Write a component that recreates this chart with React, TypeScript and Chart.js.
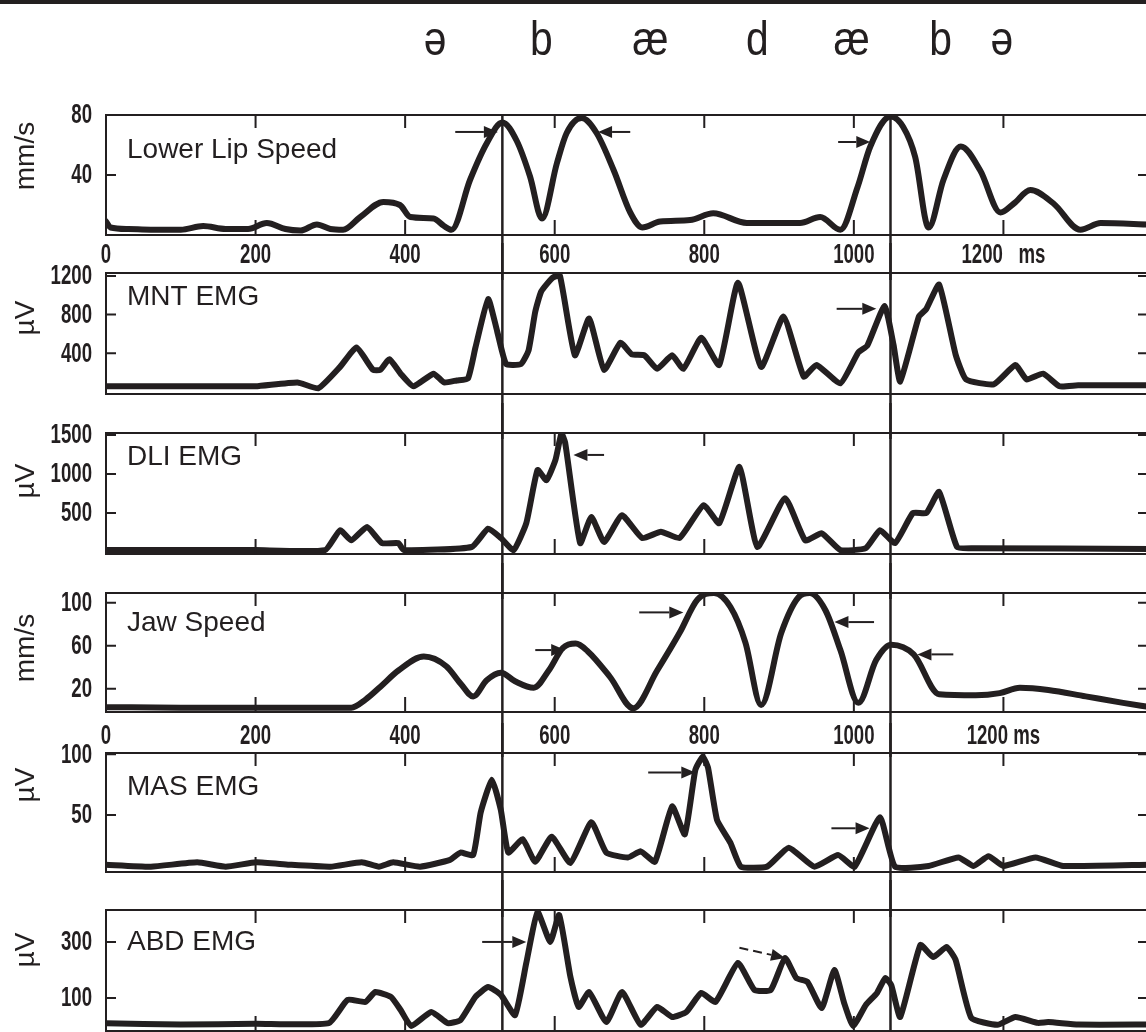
import React, { useEffect, useRef } from 'react';
import { Chart, registerables } from 'chart.js';

Chart.register(...registerables);

const INK = '#231f20';

// ---------- data (time in ms, values in panel units) ----------
const xTickValues = [0, 200, 400, 600, 800, 1000, 1200];
const boundaryTimes = [530, 1049];
const phonemeLabels = ['ə', 'b', 'æ', 'd', 'æ', 'b', 'ə'];
const phonemeTimes = [440, 582, 728, 871, 997, 1116, 1198];

const lipTime = [0, 6, 30, 60, 100, 130, 160, 190, 215, 240, 260, 282, 300, 317, 340, 371, 393, 407, 438, 452, 462, 487, 509, 530, 549, 567, 583, 603, 616, 636, 656, 679, 701, 717, 741, 781, 812, 857, 928, 955, 982, 1005, 1022, 1049, 1066, 1082, 1100, 1120, 1143, 1169, 1196, 1214, 1236, 1267, 1303, 1330, 1396];
const lipSpeed = [9, 5, 4, 3.5, 3.5, 6, 4, 4, 8, 4, 3, 7, 4, 3.5, 12, 22, 20, 12, 11, 6, 3.5, 37, 61, 75, 63, 39, 11, 48, 68, 78, 68, 43, 15, 5, 9, 10, 14.5, 8, 8, 12, 3.5, 32, 59, 79, 72, 52, 5, 37, 59, 43, 15, 21, 30, 21, 3.5, 8, 7];
const lipTicks = [40, 80];
const lipArrows = [[467, 68.7, 524, 68.7], [701, 68.7, 658, 68.7], [979, 62, 1022, 62]];

const mntTime = [0, 50, 100, 150, 200, 256, 284, 313, 335, 357, 367, 379, 394, 411, 438, 452, 469, 484, 494, 511, 523, 535, 555, 565, 574, 582, 597, 607, 627, 646, 666, 688, 703, 720, 737, 757, 772, 796, 820, 845, 876, 906, 933, 950, 982, 1006, 1018, 1041, 1053, 1062, 1087, 1097, 1114, 1136, 1150, 1187, 1216, 1231, 1253, 1275, 1300, 1396];
const mntEmg = [60, 60, 60, 60, 60, 100, 40, 260, 460, 230, 230, 340, 190, 60, 190, 100, 120, 140, 460, 960, 630, 290, 290, 430, 830, 1040, 1180, 1200, 380, 760, 230, 510, 390, 380, 240, 380, 240, 560, 280, 1130, 260, 780, 160, 280, 90, 410, 480, 890, 490, 110, 780, 860, 1110, 390, 130, 80, 280, 130, 190, 60, 70, 70];
const mntTicks = [400, 800, 1200];
const mntArrows = [[977, 860, 1030, 860]];

const dliTime = [0, 100, 200, 293, 313, 328, 349, 369, 391, 398, 489, 511, 528, 545, 562, 577, 589, 601, 609, 614, 634, 649, 666, 690, 717, 742, 767, 799, 820, 847, 871, 908, 935, 957, 982, 1016, 1035, 1055, 1079, 1097, 1114, 1138, 1160, 1396];
const dliEmg = [25, 25, 25, 25, 280, 150, 320, 115, 115, 25, 65, 300, 180, 25, 370, 1050, 920, 1180, 1520, 1400, 115, 450, 130, 470, 180, 260, 180, 600, 370, 1090, 65, 690, 150, 240, 25, 50, 280, 115, 500, 500, 770, 65, 50, 40];
const dliTicks = [500, 1000, 1500];
const dliArrows = [[666, 1244, 625, 1244]];

const jawTime = [0, 100, 200, 328, 347, 367, 391, 425, 455, 474, 491, 509, 528, 547, 572, 592, 611, 628, 644, 674, 705, 737, 767, 791, 813, 835, 855, 876, 903, 926, 941, 962, 982, 1006, 1030, 1050, 1080, 1114, 1163, 1195, 1222, 1260, 1310, 1360, 1396];
const jawSpeed = [3, 2.5, 2.5, 2.5, 10, 22, 37, 50, 41, 25, 13, 28, 35, 27, 21, 37, 58, 62, 55, 31, 2, 37, 72, 103, 109, 96, 63, 5, 72, 105, 109, 93, 56, 7, 47, 61, 52, 15, 14, 16, 21, 19, 13, 7, 3];
const jawTicks = [20, 60, 100];
const jawArrows = [[574, 56, 614, 56], [713, 91, 772, 91], [1027, 82, 974, 82], [1133, 52, 1085, 52]];

const masTime = [0, 60, 122, 160, 201, 245, 300, 342, 365, 384, 420, 460, 474, 491, 501, 516, 528, 538, 557, 574, 596, 621, 649, 669, 698, 715, 734, 757, 774, 788, 798, 805, 817, 835, 849, 884, 913, 947, 979, 1001, 1035, 1055, 1100, 1140, 1160, 1180, 1200, 1243, 1280, 1396];
const masEmg = [9, 7.4, 11, 7.4, 11, 9, 7.4, 11, 7.4, 11, 7.4, 13, 19, 17, 52, 79, 54, 19, 30, 11.5, 32, 10.5, 44, 19, 15, 20, 11.5, 57, 34, 87, 98, 89, 46, 27, 7.4, 7.4, 23, 7.4, 17, 7.4, 48, 7.4, 8, 15, 8, 16, 8, 15, 8, 9];
const masTicks = [50, 100];
const masArrows = [[725, 85, 788, 85], [970, 39, 1021, 39]];

const abdTime = [0, 100, 200, 298, 323, 347, 360, 381, 394, 408, 435, 457, 474, 494, 511, 528, 547, 562, 577, 594, 606, 621, 632, 646, 669, 690, 715, 737, 757, 776, 796, 815, 845, 867, 889, 908, 923, 938, 957, 974, 987, 999, 1016, 1031, 1042, 1050, 1062, 1089, 1106, 1124, 1136, 1157, 1192, 1216, 1246, 1260, 1300, 1396];
const abdEmg = [10, 5, 8, 10, 93, 86, 121, 104, 57, 0, 50, 10, 21, 104, 139, 111, 39, 225, 407, 300, 396, 175, 68, 121, 14, 121, 4, 68, 32, 50, 118, 86, 225, 129, 129, 243, 171, 157, 64, 200, 82, 0, 75, 118, 171, 146, 32, 289, 246, 282, 236, 29, 4, 32, 11, 14, 5, 5];
const abdTicks = [100, 300];
const abdArrows = [[503, 300, 562, 300]];
const abdDashedArrows = [[847, 279, 908, 243]];

// ---------- layout (pixels, not data) ----------
const X_MAX = 1396;
const CANVAS_W = 1170;
const AREA_RIGHT = 1150;
const AREA_LEFT = 106;

type PanelDef = {
  title: string; unit: string; time: number[]; values: number[];
  yMin: number; yMax: number; yTicks: number[];
  top: number; bottom: number; xLabels: boolean; msLabel: string; labelDy: number;
  xMarks: boolean; titleDy: number; unitDy: number; arrows: number[][]; dashed: number[][];
  smooth: boolean;
};

const panels: PanelDef[] = [
  { title: 'Lower Lip Speed', unit: 'mm/s', time: lipTime, values: lipSpeed, yMin: 0, yMax: 80, yTicks: lipTicks, top: 115, bottom: 235, xLabels: true, msLabel: '1200   ms', labelDy: 21, xMarks: true, titleDy: 35, unitDy: 41, arrows: lipArrows, dashed: [], smooth: true },
  { title: 'MNT EMG', unit: 'µV', time: mntTime, values: mntEmg, yMin: -20, yMax: 1230, yTicks: mntTicks, top: 273, bottom: 394, xLabels: false, msLabel: '', labelDy: 0, xMarks: false, titleDy: 24, unitDy: 45, arrows: mntArrows, dashed: [], smooth: false },
  { title: 'DLI EMG', unit: 'µV', time: dliTime, values: dliEmg, yMin: -25, yMax: 1525, yTicks: dliTicks, top: 433, bottom: 554, xLabels: false, msLabel: '', labelDy: 0, xMarks: true, titleDy: 24, unitDy: 48, arrows: dliArrows, dashed: [], smooth: false },
  { title: 'Jaw Speed', unit: 'mm/s', time: jawTime, values: jawSpeed, yMin: -1.5, yMax: 109, yTicks: jawTicks, top: 593, bottom: 712, xLabels: true, msLabel: '1200 ms', labelDy: 25, xMarks: true, titleDy: 30, unitDy: 55, arrows: jawArrows, dashed: [], smooth: true },
  { title: 'MAS EMG', unit: 'µV', time: masTime, values: masEmg, yMin: 3, yMax: 101, yTicks: masTicks, top: 753, bottom: 872, xLabels: false, msLabel: '', labelDy: 0, xMarks: true, titleDy: 34, unitDy: 32, arrows: masArrows, dashed: [], smooth: false },
  { title: 'ABD EMG', unit: 'µV', time: abdTime, values: abdEmg, yMin: -18, yMax: 414, yTicks: abdTicks, top: 910, bottom: 1031, xLabels: false, msLabel: '', labelDy: 0, xMarks: true, titleDy: 32, unitDy: 40, arrows: abdArrows, dashed: abdDashedArrows, smooth: false },
];

const TEXT_FAMILY = "'Liberation Sans', Arial, Helvetica, sans-serif";
const TICK_FONT = `bold 27px ${TEXT_FAMILY}`;
const TICK_SQUEEZE = 0.69;

function canvasTopOf(i: number) { return i === 0 ? 0 : panels[i].top - 30; }
function canvasBottomOf(i: number) { return i === panels.length - 1 ? 1060 : panels[i].bottom + 45; }

function drawArrow(ctx: CanvasRenderingContext2D, x1: number, y1: number, x2: number, y2: number, dashed: boolean) {
  const ang = Math.atan2(y2 - y1, x2 - x1);
  const hl = 14, hw = 6;
  const bx = x2 - hl * Math.cos(ang), by = y2 - hl * Math.sin(ang);
  ctx.save();
  ctx.lineWidth = 2;
  if (dashed) ctx.setLineDash([9, 5]);
  ctx.beginPath();
  ctx.moveTo(x1, y1);
  ctx.lineTo(bx, by);
  ctx.stroke();
  ctx.setLineDash([]);
  ctx.beginPath();
  ctx.moveTo(x2, y2);
  ctx.lineTo(bx + hw * Math.sin(ang), by - hw * Math.cos(ang));
  ctx.lineTo(bx - hw * Math.sin(ang), by + hw * Math.cos(ang));
  ctx.closePath();
  ctx.fill();
  ctx.restore();
}

function squeezedText(ctx: CanvasRenderingContext2D, text: string, x: number, y: number, align: CanvasTextAlign, font: string, squeeze: number) {
  ctx.save();
  ctx.translate(x, y);
  ctx.scale(squeeze, 1);
  ctx.font = font;
  ctx.textAlign = align;
  ctx.textBaseline = 'middle';
  ctx.fillText(text, 0, 0);
  ctx.restore();
}

function makeDeco(p: PanelDef, index: number) {
  return {
    id: 'deco' + index,
    afterDraw(chart: any) {
      const ctx: CanvasRenderingContext2D = chart.ctx;
      const a = chart.chartArea;
      const xs = chart.scales.x;
      const ys = chart.scales.y;
      ctx.save();
      ctx.strokeStyle = INK;
      ctx.fillStyle = INK;
      ctx.lineCap = 'butt';
      // frame
      ctx.lineWidth = 2;
      ctx.strokeRect(a.left, a.top, a.right - a.left, a.bottom - a.top);
      // inward x tick marks
      if (p.xMarks) {
        ctx.beginPath();
        xTickValues.forEach((v) => {
          if (v === 0) return;
          const px = xs.getPixelForValue(v);
          ctx.moveTo(px, a.top); ctx.lineTo(px, a.top + 13);
          ctx.moveTo(px, a.bottom); ctx.lineTo(px, a.bottom - 15);
        });
        ctx.stroke();
      }
      // inward y tick marks + labels
      ctx.beginPath();
      p.yTicks.forEach((v) => {
        const py = ys.getPixelForValue(v);
        ctx.moveTo(a.left, py); ctx.lineTo(a.left + 10, py);
        ctx.moveTo(a.right, py); ctx.lineTo(a.right - 12, py);
      });
      ctx.stroke();
      p.yTicks.forEach((v) => {
        squeezedText(ctx, String(v), a.left - 14, ys.getPixelForValue(v) + 1, 'right', TICK_FONT, TICK_SQUEEZE);
      });
      // x labels
      if (p.xLabels) {
        xTickValues.forEach((v) => {
          const label = v === 1200 ? p.msLabel : String(v);
          squeezedText(ctx, label, xs.getPixelForValue(v), a.bottom + p.labelDy, 'center', TICK_FONT, TICK_SQUEEZE);
        });
      }
      // boundary lines
      ctx.lineWidth = 2.5;
      ctx.beginPath();
      boundaryTimes.forEach((t) => {
        const px = xs.getPixelForValue(t);
        ctx.moveTo(px, index === 0 ? a.top : 0);
        ctx.lineTo(px, chart.height);
      });
      ctx.stroke();
      // arrows
      p.arrows.forEach((ar) => drawArrow(ctx, xs.getPixelForValue(ar[0]), ys.getPixelForValue(ar[1]), xs.getPixelForValue(ar[2]), ys.getPixelForValue(ar[3]), false));
      p.dashed.forEach((ar) => drawArrow(ctx, xs.getPixelForValue(ar[0]), ys.getPixelForValue(ar[1]), xs.getPixelForValue(ar[2]), ys.getPixelForValue(ar[3]), true));
      // panel title
      ctx.font = `28px ${TEXT_FAMILY}`;
      ctx.textAlign = 'left';
      ctx.textBaseline = 'middle';
      ctx.fillText(p.title, a.left + 21, a.top + p.titleDy);
      // unit label
      ctx.save();
      ctx.translate(26, a.top + p.unitDy);
      ctx.rotate(-Math.PI / 2);
      ctx.textAlign = 'center';
      ctx.font = `28px ${TEXT_FAMILY}`;
      ctx.fillText(p.unit, 0, 0);
      ctx.restore();
      // phonemes
      if (index === 0) {
        phonemeLabels.forEach((s, k) => {
          ctx.save();
          ctx.translate(xs.getPixelForValue(phonemeTimes[k]), 55);
          ctx.scale(0.85, 1);
          ctx.font = `48px ${TEXT_FAMILY}`;
          ctx.textAlign = 'center';
          ctx.textBaseline = 'alphabetic';
          ctx.fillText(s, 0, 0);
          ctx.restore();
        });
      }
      ctx.restore();
    },
  };
}

function Panel({ p, index }: { p: PanelDef; index: number }) {
  const ref = useRef<HTMLCanvasElement>(null);
  const cTop = canvasTopOf(index);
  const cBottom = canvasBottomOf(index);
  const h = cBottom - cTop;
  useEffect(() => {
    const canvas = ref.current;
    if (!canvas) return;
    const chart = new Chart(canvas, {
      type: 'line',
      data: {
        datasets: [{
          data: p.time.map((t, k) => ({ x: t, y: p.values[k] })),
          borderColor: INK,
          borderWidth: 6,
          pointRadius: 0,
          fill: false,
          tension: p.smooth ? 0.4 : 0.15,
          cubicInterpolationMode: p.smooth ? 'monotone' : 'default',
          borderJoinStyle: 'round',
          borderCapStyle: 'round',
        }],
      },
      options: {
        animation: false,
        responsive: false,
        devicePixelRatio: 1,
        layout: { padding: { top: p.top - cTop, bottom: cBottom - p.bottom, left: AREA_LEFT, right: CANVAS_W - AREA_RIGHT } },
        plugins: { legend: { display: false }, tooltip: { enabled: false }, title: { display: false } },
        scales: {
          x: { type: 'linear', min: 0, max: X_MAX, display: false },
          y: { type: 'linear', min: p.yMin, max: p.yMax, display: false },
        },
      } as any,
      plugins: [makeDeco(p, index)],
    });
    return () => chart.destroy();
  }, []);
  return (
    <canvas
      ref={ref}
      width={CANVAS_W}
      height={h}
      style={{ position: 'absolute', left: 0, top: cTop, width: CANVAS_W, height: h, display: 'block' }}
    />
  );
}

export default function App() {
  return (
    <div style={{ position: 'absolute', left: 0, top: 0, width: 1146, height: 1032, overflow: 'hidden', background: '#ffffff' }}>
      <div style={{ position: 'absolute', left: 0, top: 0, width: 1146, height: 4, background: INK }} />
      {panels.map((p, i) => (
        <Panel key={i} p={p} index={i} />
      ))}
    </div>
  );
}
